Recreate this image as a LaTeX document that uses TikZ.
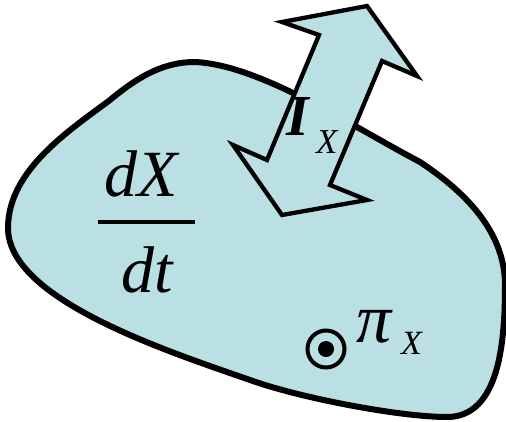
\documentclass[tikz,border=0pt]{standalone}
\usepackage{fontspec}
\setmainfont{Liberation Serif}
\definecolor{blobfill}{RGB}{186,224,227}
\begin{document}
\begin{tikzpicture}[x=1pt,y=-1pt,
  outline/.style={draw=black,fill=blobfill,line width=6pt,line join=round},
  arrowshape/.style={draw=black,fill=blobfill,line width=4.3pt,line join=miter},
  lbl/.style={inner sep=0pt,outer sep=0pt,text=black}]
\useasboundingbox (0,0) rectangle (506,421);
% blob
\path[outline] (8,228) .. controls (8,170) and (70,130) .. (110,100)
  .. controls (140,75) and (165,62) .. (195,62)
  .. controls (260,65) and (350,125) .. (420,162)
  .. controls (470,195) and (505,235) .. (505,285)
  .. controls (505,340) and (500,417) .. (447,417)
  .. controls (400,417) and (300,398) .. (250,380)
  .. controls (170,352) and (8,300) .. (8,228) -- cycle;
% double arrow
\path[arrowshape] (367,6) -- (417,76) -- (382,61) -- (330,185) -- (367,200)
  -- (282,215) -- (233,145) -- (267,160) -- (319,35) -- (282,22) -- cycle;
% I_X
\node[lbl,anchor=base west,font={\bfseries\itshape\fontsize{58}{58}\selectfont}] (I) at (286,135) {I};
\node[lbl,anchor=base west,font={\itshape\fontsize{35}{35}\selectfont}] (IX) at (316,153) {X};
% dX/dt
\node[lbl,anchor=base,font={\itshape\fontsize{66}{66}\selectfont}] (dX) at (141,196) {dX};
\node[lbl,anchor=base,font={\itshape\fontsize{66}{66}\selectfont}] (dt) at (147,292) {dt};
\coordinate (fl) at (98,222);
\coordinate (fr) at (195,222);
\draw[line width=4.5pt] (fl) -- (fr);
% circle dot
\node[draw=black,line width=4pt,circle,minimum size=37pt,inner sep=0pt] (cd) at (326,349) {};
\fill[black] (cd.center) circle (8);
% pi_X
\node[lbl,anchor=base west,font={\itshape\fontsize{70}{70}\selectfont}] (pi) at (356,342) {π};
\node[lbl,anchor=base west,font={\itshape\fontsize{34}{34}\selectfont}] (piX) at (401,354) {X};
\end{tikzpicture}
\end{document}
